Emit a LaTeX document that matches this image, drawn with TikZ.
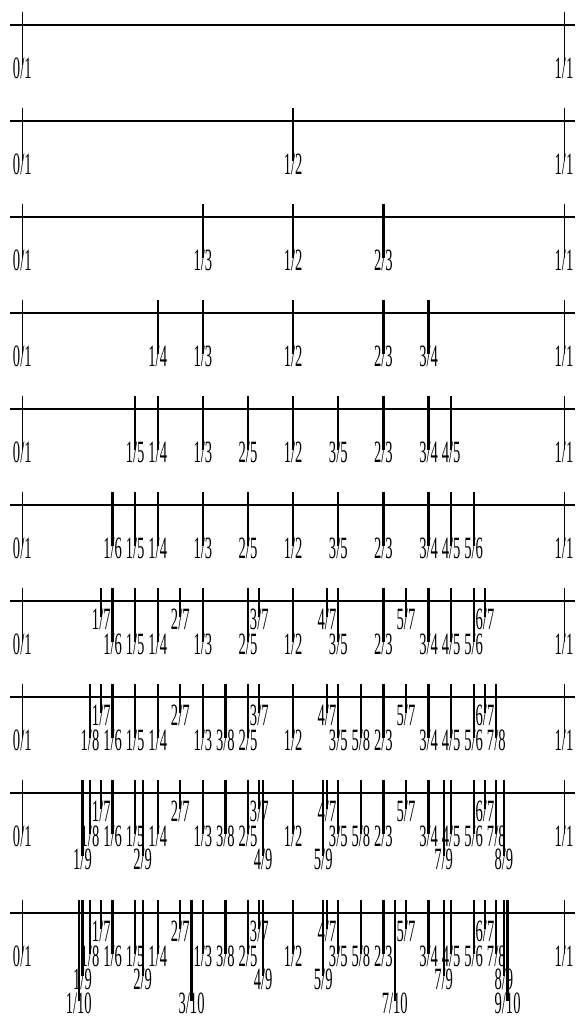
\documentclass[tikz,border=0pt]{standalone}
\usepackage{fontspec}
\setmainfont{Liberation Serif}
\tikzset{
  axisline/.style={line width=2.5pt},
  thintick/.style={line width=1pt},
  thicktick/.style={line width=2.2pt},
  lab/.style={font=\fontsize{31}{31}\selectfont, inner sep=0pt, anchor=center}
}
\newcommand{\fraclab}[2]{\scalebox{0.47}[1]{#1/#2}}
\begin{document}
\begin{tikzpicture}[x=1pt,y=-1pt]
\useasboundingbox (0,0) rectangle (575,1016);
\foreach \n in {1,...,10} {
  \pgfmathsetmacro{\Y}{25+96*(\n-1)+(\n==10)*24}
  \coordinate (a\n) at (10,\Y);
  \coordinate (b\n) at (575,\Y);
  \draw[axisline] (a\n) -- (b\n);
  % 0/1
  \coordinate (t\n-0-1) at (22.3,\Y-13);
  \coordinate (u\n-0-1) at (22.3,\Y+40.5);
  \draw[thintick] (t\n-0-1) -- (u\n-0-1);
  \node[lab] (l\n-0-1) at (22.3,\Y+43.5) {\fraclab{0}{1}};
  \foreach \q in {1,...,\n} {
    \foreach \p in {1,...,\q} {
      \pgfmathtruncatemacro{\g}{gcd(\p,\q)}
      \ifnum\g=1
        \pgfmathsetmacro{\P}{(\q==5 || \q==7 || \q==10) ? ((2*\p<\q) ? \p*round(48/\q)/48 : 1-(\q-\p)*round(48/\q)/48) : \p/\q}
        \pgfmathsetmacro{\X}{22.3+541.7*\P}
        \pgfmathsetmacro{\D}{(\q==7) ? 18.5 : ((\q==9) ? 66 : ((\q==10) ? 90.5 : 43.5))}
        \coordinate (t\n-\p-\q) at (\X,\Y-13);
        \coordinate (u\n-\p-\q) at (\X,\Y+\D-3);
        \ifnum\q=1
          \draw[thintick] (t\n-\p-\q) -- (u\n-\p-\q);
        \else
          \draw[thicktick] (t\n-\p-\q) -- (u\n-\p-\q);
        \fi
        \node[lab] (l\n-\p-\q) at (\X,\Y+\D) {\fraclab{\p}{\q}};
      \fi
    }
  }
}
\end{tikzpicture}
\end{document}
